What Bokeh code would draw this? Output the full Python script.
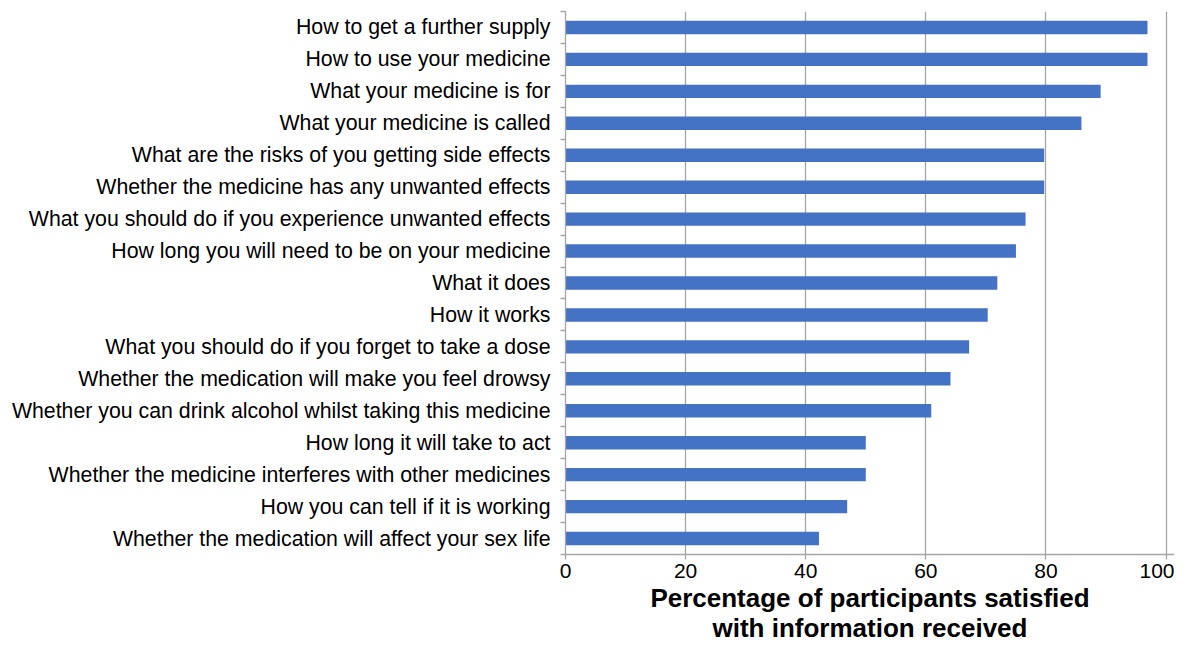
from bokeh.plotting import figure
from bokeh.models import FixedTicker, Range1d
from bokeh.embed import file_html
from bokeh.resources import INLINE

categories = [
    "How to get a further supply",
    "How to use your medicine",
    "What your medicine is for",
    "What your medicine is called",
    "What are the risks of you getting side effects",
    "Whether the medicine has any unwanted effects",
    "What you should do if you experience unwanted effects",
    "How long you will need to be on your medicine",
    "What it does",
    "How it works",
    "What you should do if you forget to take a dose",
    "Whether the medication will make you feel drowsy",
    "Whether you can drink alcohol whilst taking this medicine",
    "How long it will take to act",
    "Whether the medicine interferes with other medicines",
    "How you can tell if it is working",
    "Whether the medication will affect your sex life",
]
values = [96.9, 96.9, 89.1, 85.9, 79.7, 79.7, 76.6, 75.0, 71.9, 70.3,
          67.2, 64.1, 60.9, 50.0, 50.0, 46.9, 42.2]
x_ticks = [0, 20, 40, 60, 80, 100]
x_label = "Percentage of participants satisfied\nwith information received"

n = len(categories)
ys = [n - i - 0.5 for i in range(n)]

p = figure(width=1174, height=645, output_backend="svg", toolbar_location=None,
           x_range=Range1d(0, 101.4), y_range=Range1d(0, n),
           min_border_left=565, min_border_right=0, min_border_top=11,
           min_border_bottom=0)
p.hbar(y=ys, right=values, left=0, height=0.42, color="#4472C4", line_color=None)

p.outline_line_color = None
p.background_fill_color = "white"
p.border_fill_color = "white"

p.ygrid.visible = False
p.xgrid.ticker = FixedTicker(ticks=x_ticks[1:])
p.xgrid.grid_line_color = "#a6a6a6"
p.xgrid.grid_line_width = 1.3

xa = p.xaxis[0]
xa.ticker = FixedTicker(ticks=x_ticks)
xa.axis_line_color = "#a6a6a6"
xa.axis_line_width = 1.3
xa.major_tick_line_color = "#a6a6a6"
xa.major_tick_line_width = 1.3
xa.major_tick_out = 5
xa.major_tick_in = 0
xa.minor_tick_line_color = None
xa.major_label_text_font = "Liberation Sans"
xa.major_label_text_font_size = "21px"
xa.major_label_text_color = "black"
xa.major_label_standoff = 4
xa.axis_label = x_label
xa.axis_label_text_font = "Liberation Sans"
xa.axis_label_text_font_style = "bold"
xa.axis_label_text_font_size = "26px"
xa.axis_label_text_color = "black"
xa.axis_label_standoff = 2
xa.axis_label_text_line_height = 1.0

ya = p.yaxis[0]
ya.ticker = FixedTicker(ticks=ys, minor_ticks=list(range(n + 1)))
ya.major_label_overrides = {y: c for y, c in zip(ys, categories)}
ya.axis_line_color = "#a6a6a6"
ya.axis_line_width = 1.3
ya.major_tick_line_color = None
ya.major_tick_out = 0
ya.minor_tick_line_color = "#a6a6a6"
ya.minor_tick_line_width = 1.3
ya.minor_tick_out = 5
ya.minor_tick_in = 0
ya.major_label_text_font = "Liberation Sans"
ya.major_label_text_font_size = "21.3px"
ya.major_label_text_color = "black"
ya.major_label_standoff = 10

open("out.html", "w").write(file_html(p, INLINE))
